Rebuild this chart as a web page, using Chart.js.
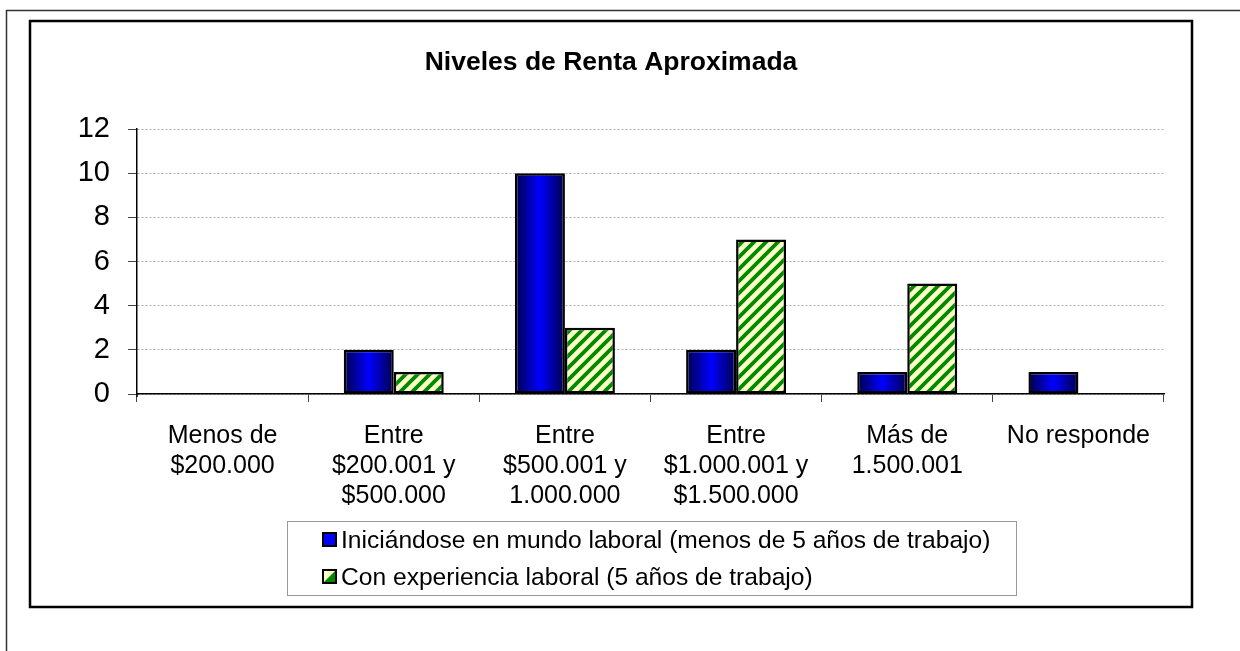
<!DOCTYPE html>
<html>
<head>
<meta charset="utf-8">
<title>Niveles de Renta Aproximada</title>
<script src="https://cdn.jsdelivr.net/npm/chart.js@4.4.1/dist/chart.umd.min.js"></script>
<style>
  html, body { margin: 0; padding: 0; background: #fff; }
  #wrap { width: 1240px; height: 651px; position: relative; }
</style>
</head>
<body>
<div id="wrap"><canvas id="renta-chart"></canvas></div>
<script>
// --- data ---
const chartTitle = 'Niveles de Renta Aproximada';
const categories = [
    ['Menos de', '$200.000'],
    ['Entre', '$200.001 y', '$500.000'],
    ['Entre', '$500.001 y', '1.000.000'],
    ['Entre', '$1.000.001 y', '$1.500.000'],
    ['Más de', '1.500.001'],
    ['No responde']
];
const seriesNames = [
    'Iniciándose en mundo laboral (menos de 5 años de trabajo)',
    'Con experiencia laboral (5 años de trabajo)'
];
const iniciandose = [0, 2, 10, 2, 1, 1];
const conExperiencia = [0, 1, 3, 7, 5, 0];
const yTicks = [0, 2, 4, 6, 8, 10, 12];

const FONT = 'Arial, "Liberation Sans", sans-serif';
const CAT_PCT = 0.584;

const canvas = document.getElementById('renta-chart');
const ctx = canvas.getContext('2d');

// green diagonal hatch on pale yellow
function makeHatch() {
    const tile = document.createElement('canvas');
    tile.width = 12;
    tile.height = 12;
    const g = tile.getContext('2d');
    g.fillStyle = '#ffffc8';
    g.fillRect(0, 0, 12, 12);
    g.strokeStyle = '#008a00';
    g.lineWidth = 3.8;
    g.beginPath();
    g.moveTo(-3, 15); g.lineTo(15, -3);
    g.moveTo(-3, 3); g.lineTo(3, -3);
    g.moveTo(9, 15); g.lineTo(15, 9);
    g.stroke();
    return ctx.createPattern(tile, 'repeat');
}
const hatch = makeHatch();

// blue bars get a dark-bright-dark horizontal shading
function blueFill(context) {
    const chart = context.chart;
    const xScale = chart.scales.x;
    if (!xScale || context.dataIndex === undefined) return '#0000ff';
    const center = xScale.getPixelForValue(context.dataIndex);
    const w = (xScale.width / categories.length) * CAT_PCT / 2;
    if (!isFinite(center) || !isFinite(w) || w <= 0) return '#0000ff';
    const grad = chart.ctx.createLinearGradient(center - w, 0, center, 0);
    grad.addColorStop(0, '#00004a');
    grad.addColorStop(0.5, '#0000ff');
    grad.addColorStop(1, '#00004a');
    return grad;
}

// frames, title and legend box
const decorations = {
    id: 'decorations',
    beforeDraw(chart) {
        const c = chart.ctx;
        c.save();
        c.fillStyle = '#fff';
        c.fillRect(0, 0, chart.width, chart.height);
        c.restore();
    },
    afterDraw(chart) {
        const c = chart.ctx;
        c.save();

        // outer cell border
        c.strokeStyle = '#333';
        c.lineWidth = 1.5;
        c.beginPath();
        c.moveTo(6.5, chart.height);
        c.lineTo(6.5, 10.5);
        c.lineTo(chart.width, 10.5);
        c.stroke();

        // chart frame
        c.strokeStyle = '#000';
        c.lineWidth = 2.5;
        c.strokeRect(30, 21, 1162, 586);

        // title
        c.fillStyle = '#000';
        c.font = 'bold 26.5px ' + FONT;
        c.textAlign = 'center';
        c.textBaseline = 'middle';
        c.fillText(chartTitle, 611, 63);

        // legend
        c.strokeStyle = '#999';
        c.lineWidth = 1;
        c.strokeRect(287.5, 521.5, 729, 74);
        c.font = '24.6px ' + FONT;
        c.textAlign = 'left';
        const rows = [540, 577];
        rows.forEach((y, i) => {
            const mx = 323, my = y - 7, s = 13;
            if (i === 0) {
                c.fillStyle = '#0000ff';
                c.fillRect(mx, my, s, s);
            } else {
                c.fillStyle = '#ffffc8';
                c.beginPath();
                c.moveTo(mx, my); c.lineTo(mx + s, my); c.lineTo(mx, my + s);
                c.closePath(); c.fill();
                c.fillStyle = '#008a00';
                c.beginPath();
                c.moveTo(mx + s, my); c.lineTo(mx + s, my + s); c.lineTo(mx, my + s);
                c.closePath(); c.fill();
            }
            c.strokeStyle = '#000';
            c.lineWidth = 2;
            c.strokeRect(mx, my, s, s);
            c.fillStyle = '#000';
            c.fillText(seriesNames[i], 341, y + 1);
        });

        // y axis runs a little past the baseline
        const area = chart.chartArea;
        c.strokeStyle = '#000';
        c.lineWidth = 1.5;
        c.beginPath();
        c.moveTo(area.left, area.bottom);
        c.lineTo(area.left, area.bottom + 3);
        c.stroke();

        c.restore();
    }
};

const chart = new Chart(ctx, {
    type: 'bar',
    data: {
        labels: categories,
        datasets: [{
            label: seriesNames[0],
            data: iniciandose,
            backgroundColor: blueFill,
            borderColor: '#000',
            borderWidth: 2.5,
            borderSkipped: false
        }, {
            label: seriesNames[1],
            data: conExperiencia,
            backgroundColor: hatch,
            borderColor: '#000',
            borderWidth: 2.5,
            borderSkipped: false
        }]
    },
    options: {
        responsive: true,
        maintainAspectRatio: false,
        animation: false,
        events: [],
        datasets: {
            bar: { categoryPercentage: CAT_PCT, barPercentage: 1 }
        },
        layout: { padding: { top: 129, left: 30, right: 76, bottom: 0 } },
        plugins: {
            legend: { display: false },
            title: { display: false },
            tooltip: { enabled: false }
        },
        scales: {
            x: {
                afterFit: scale => { scale.height = 257; },
                grid: {
                    offset: true,
                    drawOnChartArea: false,
                    drawTicks: true,
                    tickLength: 8,
                    tickColor: '#444'
                },
                border: { color: '#000', width: 1.5 },
                ticks: {
                    color: '#000',
                    font: { family: FONT, size: 25, lineHeight: 1.2 },
                    padding: 19,
                    maxRotation: 0,
                    autoSkip: false
                }
            },
            y: {
                min: 0,
                max: 12,
                afterFit: scale => { scale.width = 107; },
                afterBuildTicks: scale => {
                    scale.ticks = yTicks.map(v => ({ value: v }));
                },
                grid: {
                    color: '#b0b0b0',
                    lineWidth: 1,
                    tickLength: 9,
                    tickColor: '#444',
                    tickBorderDash: []
                },
                border: { color: '#000', width: 1.5, dash: [2, 2] },
                ticks: {
                    color: '#000',
                    font: { family: FONT, size: 29 },
                    padding: 18
                }
            }
        }
    },
    plugins: [decorations]
});
</script>
</body>
</html>
